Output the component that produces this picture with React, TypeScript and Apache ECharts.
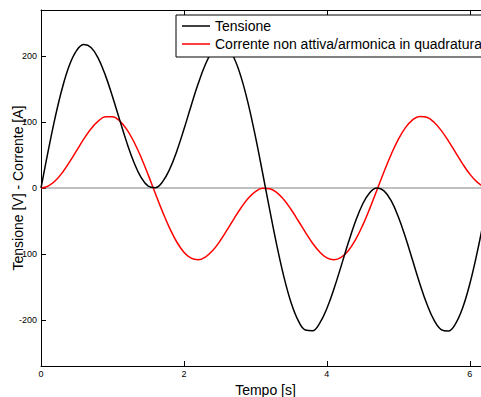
import React, { useEffect, useRef } from "react";
import * as echarts from "echarts";

// time samples [s]
const tempo = [
  0, 0.1, 0.2, 0.3, 0.4, 0.5, 0.6, 0.7, 0.8, 0.9,
  1.0, 1.1, 1.2, 1.3, 1.4, 1.5, 1.6, 1.7, 1.8, 1.9,
  2.0, 2.1, 2.2, 2.3, 2.4, 2.5, 2.6, 2.7, 2.8, 2.9,
  3.0, 3.1, 3.2, 3.3, 3.4, 3.5, 3.6, 3.7, 3.8, 3.9,
  4.0, 4.1, 4.2, 4.3, 4.4, 4.5, 4.6, 4.7, 4.8, 4.9,
  5.0, 5.1, 5.2, 5.3, 5.4, 5.5, 5.6, 5.7, 5.8, 5.9,
  6.0, 6.1, 6.2, 6.2832,
];

// Tensione [V]
const tensione = [
  0, 55.9, 108.0, 152.5, 186.9, 208.8, 217.5, 213.1, 197.0, 171.2,
  138.9, 103.7, 69.2, 39.0, 16.1, 2.8, 0.5, 9.3, 28.4, 55.9,
  89.0, 124.4, 158.4, 187.3, 207.8, 217.2, 214.1, 197.6, 168.2, 127.6,
  78.2, 23.5, -32.9, -87.0, -135.1, -174.0, -201.3, -215.5, -216.6, -205.0,
  -182.9, -152.9, -118.5, -83.2, -50.8, -24.6, -7.1, -0.1, -4.3, -19.3,
  -43.7, -74.8, -109.7, -144.7, -176.1, -200.4, -214.8, -217.0, -206.0, -181.9,
  -145.7, -99.6, -46.7, 0,
];

// Corrente non attiva/armonica in quadratura [A]
const corrente = [
  0, 2.8, 10.9, 23.6, 39.5, 57.0, 74.4, 89.8, 101.4, 107.9,
  108.2, 101.9, 89.0, 70.2, 46.7, 19.9, -8.3, -35.8, -60.9, -81.9,
  -97.3, -106.4, -108.8, -104.8, -95.2, -81.2, -64.4, -46.7, -29.9, -15.7,
  -5.6, -0.5, -1.0, -6.9, -17.8, -32.6, -49.7, -67.3, -83.8, -97.1,
  -105.9, -108.8, -105.3, -95.1, -78.7, -57.0, -31.3, -3.5, 24.6, 50.9,
  73.8, 91.6, 103.4, 108.6, 107.2, 99.8, 87.4, 71.6, 54.1, 36.7,
  21.2, 9.2, 1.9, 0,
];

const xTicks = [0, 2, 4, 6];
const yTicks = [-200, -100, 0, 100, 200];
const xMax = 6.2832;
const yMin = -270;
const yMax = 270;

const FONT = "'Liberation Sans', Arial, Helvetica, sans-serif";

export default function App() {
  const ref = useRef<HTMLDivElement>(null);

  useEffect(() => {
    document.body.style.margin = "0";
    const chart = echarts.init(ref.current!, undefined, { renderer: "svg" });

    const axisLine = { show: true, onZero: false, lineStyle: { color: "#000", width: 1 } };
    const tickStyle = { show: true, inside: true, length: 5, lineStyle: { color: "#000", width: 1 } };

    chart.setOption({
      animation: false,
      backgroundColor: "#fff",
      textStyle: { fontFamily: FONT },
      grid: {
        left: 41,
        top: 10,
        width: 449,
        height: 356,
        containLabel: false,
        outerBoundsMode: "none",
      },
      legend: {
        data: ["Tensione", "Corrente non attiva/armonica in quadratura"],
        orient: "vertical",
        left: 176,
        top: 15,
        padding: [4, 30, 6, 6],
        itemGap: 4,
        icon: "rect",
        itemWidth: 28,
        itemHeight: 1.5,
        borderColor: "#000",
        borderWidth: 1,
        borderRadius: 0,
        backgroundColor: "#fff",
        textStyle: { fontSize: 14, lineHeight: 14, color: "#000", fontFamily: FONT },
      },
      xAxis: [
        {
          type: "value",
          position: "bottom",
          min: 0,
          max: xMax,
          name: "Tempo [s]",
          nameLocation: "middle",
          nameGap: 17,
          nameMoveOverlap: false,
          nameTextStyle: { fontSize: 14, color: "#000", fontFamily: FONT },
          axisLine,
          axisTick: { ...tickStyle, customValues: xTicks },
          axisLabel: {
            customValues: xTicks,
            fontSize: 9,
            color: "#000",
            margin: 3,
            fontFamily: FONT,
          },
          splitLine: { show: false },
        },
        {
          type: "value",
          position: "top",
          min: 0,
          max: xMax,
          axisLine,
          axisTick: { ...tickStyle, customValues: xTicks },
          axisLabel: { show: false },
          splitLine: { show: false },
        },
      ],
      yAxis: [
        {
          type: "value",
          position: "left",
          min: yMin,
          max: yMax,
          name: "Tensione [V] - Corrente [A]",
          nameLocation: "middle",
          nameGap: 16,
          nameMoveOverlap: false,
          nameTextStyle: { fontSize: 14, color: "#000", fontFamily: FONT },
          axisLine,
          axisTick: { ...tickStyle, customValues: yTicks },
          axisLabel: {
            customValues: yTicks,
            fontSize: 9,
            color: "#000",
            margin: 4,
            fontFamily: FONT,
          },
          splitLine: { show: false },
        },
        {
          type: "value",
          position: "right",
          min: yMin,
          max: yMax,
          axisLine,
          axisTick: { ...tickStyle, customValues: yTicks },
          axisLabel: { show: false },
          splitLine: { show: false },
        },
      ],
      series: [
        {
          type: "line",
          silent: true,
          xAxisIndex: 0,
          yAxisIndex: 0,
          symbol: "none",
          data: [
            [0, 0],
            [xMax, 0],
          ],
          lineStyle: { color: "#808080", width: 1 },
          z: 1,
        },
        {
          name: "Tensione",
          type: "line",
          xAxisIndex: 0,
          yAxisIndex: 0,
          symbol: "none",
          smooth: 0.4,
          data: tempo.map((t, i) => [t, tensione[i]]),
          lineStyle: { color: "#000", width: 1.5 },
          itemStyle: { color: "#000" },
          z: 3,
        },
        {
          name: "Corrente non attiva/armonica in quadratura",
          type: "line",
          xAxisIndex: 0,
          yAxisIndex: 0,
          symbol: "none",
          smooth: 0.4,
          data: tempo.map((t, i) => [t, corrente[i]]),
          lineStyle: { color: "#ff0000", width: 1.5 },
          itemStyle: { color: "#ff0000" },
          z: 2,
        },
      ],
    });

    return () => chart.dispose();
  }, []);

  return (
    <div
      style={{
        position: "fixed",
        left: 0,
        top: 0,
        width: 481,
        height: 397,
        overflow: "hidden",
        background: "#fff",
      }}
    >
      <div ref={ref} style={{ width: 520, height: 397 }} />
    </div>
  );
}
